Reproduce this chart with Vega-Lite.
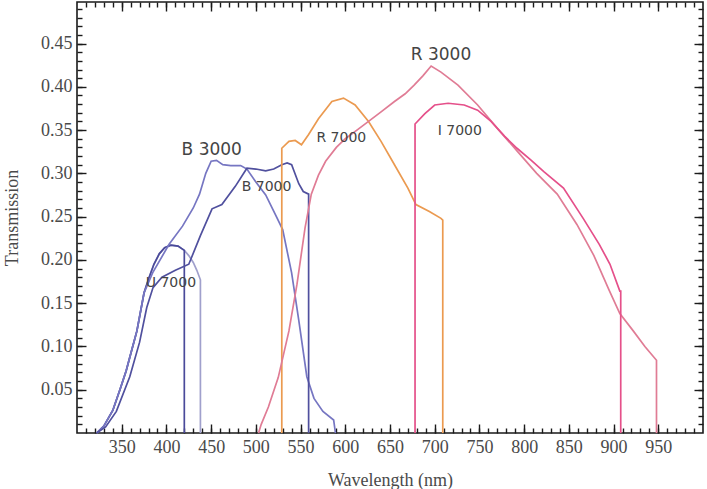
{
  "$schema": "https://vega.github.io/schema/vega-lite/v6.json",
  "width": 626,
  "height": 431,
  "autosize": {"type": "none"},
  "padding": {"left": 77, "top": 2, "right": 4, "bottom": 56},
  "background": "white",
  "config": {
    "view": {"stroke": "#1a1a1a", "strokeWidth": 1.6},
    "axis": {"grid": false, "domain": false, "tickColor": "#1a1a1a", "tickWidth": 1.4}
  },
  "datasets": {
    "curves": [
      {"s": "U 3000", "i": 0, "w": 322, "t": 0},
      {"s": "U 3000", "i": 1, "w": 330, "t": 0.008},
      {"s": "U 3000", "i": 2, "w": 340, "t": 0.026},
      {"s": "U 3000", "i": 3, "w": 348, "t": 0.05},
      {"s": "U 3000", "i": 4, "w": 355, "t": 0.072},
      {"s": "U 3000", "i": 5, "w": 361, "t": 0.095},
      {"s": "U 3000", "i": 6, "w": 367, "t": 0.118},
      {"s": "U 3000", "i": 7, "w": 375, "t": 0.162},
      {"s": "U 3000", "i": 8, "w": 380, "t": 0.178},
      {"s": "U 3000", "i": 9, "w": 386, "t": 0.195},
      {"s": "U 3000", "i": 10, "w": 392, "t": 0.207},
      {"s": "U 3000", "i": 11, "w": 398, "t": 0.214},
      {"s": "U 3000", "i": 12, "w": 405, "t": 0.217},
      {"s": "U 3000", "i": 13, "w": 413, "t": 0.216},
      {"s": "U 3000", "i": 14, "w": 420, "t": 0.211},
      {"s": "U 3000", "i": 15, "w": 425, "t": 0.205},
      {"s": "U 3000", "i": 16, "w": 430, "t": 0.197},
      {"s": "U 3000", "i": 17, "w": 434, "t": 0.188},
      {"s": "U 3000", "i": 18, "w": 438, "t": 0.177},
      {"s": "U 3000", "i": 19, "w": 438, "t": 0},

      {"s": "U 7000", "i": 0, "w": 322, "t": 0},
      {"s": "U 7000", "i": 1, "w": 330, "t": 0.008},
      {"s": "U 7000", "i": 2, "w": 340, "t": 0.026},
      {"s": "U 7000", "i": 3, "w": 348, "t": 0.05},
      {"s": "U 7000", "i": 4, "w": 355, "t": 0.072},
      {"s": "U 7000", "i": 5, "w": 361, "t": 0.095},
      {"s": "U 7000", "i": 6, "w": 367, "t": 0.118},
      {"s": "U 7000", "i": 7, "w": 375, "t": 0.162},
      {"s": "U 7000", "i": 8, "w": 380, "t": 0.178},
      {"s": "U 7000", "i": 9, "w": 386, "t": 0.195},
      {"s": "U 7000", "i": 10, "w": 392, "t": 0.207},
      {"s": "U 7000", "i": 11, "w": 398, "t": 0.214},
      {"s": "U 7000", "i": 12, "w": 405, "t": 0.217},
      {"s": "U 7000", "i": 13, "w": 413, "t": 0.216},
      {"s": "U 7000", "i": 14, "w": 420, "t": 0.211},
      {"s": "U 7000", "i": 15, "w": 420, "t": 0},

      {"s": "B 3000", "i": 0, "w": 322, "t": 0},
      {"s": "B 3000", "i": 1, "w": 330, "t": 0.008},
      {"s": "B 3000", "i": 2, "w": 340, "t": 0.026},
      {"s": "B 3000", "i": 3, "w": 348, "t": 0.05},
      {"s": "B 3000", "i": 4, "w": 355, "t": 0.072},
      {"s": "B 3000", "i": 5, "w": 361, "t": 0.095},
      {"s": "B 3000", "i": 6, "w": 367, "t": 0.118},
      {"s": "B 3000", "i": 7, "w": 375, "t": 0.162},
      {"s": "B 3000", "i": 8, "w": 385, "t": 0.186},
      {"s": "B 3000", "i": 9, "w": 403, "t": 0.218},
      {"s": "B 3000", "i": 10, "w": 418, "t": 0.239},
      {"s": "B 3000", "i": 11, "w": 430, "t": 0.26},
      {"s": "B 3000", "i": 12, "w": 437, "t": 0.276},
      {"s": "B 3000", "i": 13, "w": 444, "t": 0.3},
      {"s": "B 3000", "i": 14, "w": 450, "t": 0.314},
      {"s": "B 3000", "i": 15, "w": 456, "t": 0.315},
      {"s": "B 3000", "i": 16, "w": 463, "t": 0.31},
      {"s": "B 3000", "i": 17, "w": 472, "t": 0.309},
      {"s": "B 3000", "i": 18, "w": 483, "t": 0.309},
      {"s": "B 3000", "i": 19, "w": 490, "t": 0.305},
      {"s": "B 3000", "i": 20, "w": 500, "t": 0.29},
      {"s": "B 3000", "i": 21, "w": 511, "t": 0.275},
      {"s": "B 3000", "i": 22, "w": 522, "t": 0.252},
      {"s": "B 3000", "i": 23, "w": 530, "t": 0.235},
      {"s": "B 3000", "i": 24, "w": 540, "t": 0.185},
      {"s": "B 3000", "i": 25, "w": 548, "t": 0.13},
      {"s": "B 3000", "i": 26, "w": 557, "t": 0.065},
      {"s": "B 3000", "i": 27, "w": 565, "t": 0.04},
      {"s": "B 3000", "i": 28, "w": 575, "t": 0.025},
      {"s": "B 3000", "i": 29, "w": 587, "t": 0.015},
      {"s": "B 3000", "i": 30, "w": 589, "t": 0},

      {"s": "B 7000", "i": 0, "w": 322, "t": 0},
      {"s": "B 7000", "i": 1, "w": 332, "t": 0.007},
      {"s": "B 7000", "i": 2, "w": 344, "t": 0.025},
      {"s": "B 7000", "i": 3, "w": 359, "t": 0.065},
      {"s": "B 7000", "i": 4, "w": 370, "t": 0.105},
      {"s": "B 7000", "i": 5, "w": 378, "t": 0.145},
      {"s": "B 7000", "i": 6, "w": 385, "t": 0.168},
      {"s": "B 7000", "i": 7, "w": 395, "t": 0.18},
      {"s": "B 7000", "i": 8, "w": 410, "t": 0.188},
      {"s": "B 7000", "i": 9, "w": 425, "t": 0.195},
      {"s": "B 7000", "i": 10, "w": 438, "t": 0.228},
      {"s": "B 7000", "i": 11, "w": 451, "t": 0.259},
      {"s": "B 7000", "i": 12, "w": 462, "t": 0.264},
      {"s": "B 7000", "i": 13, "w": 477, "t": 0.285},
      {"s": "B 7000", "i": 14, "w": 490, "t": 0.306},
      {"s": "B 7000", "i": 15, "w": 500, "t": 0.305},
      {"s": "B 7000", "i": 16, "w": 511, "t": 0.303},
      {"s": "B 7000", "i": 17, "w": 520, "t": 0.305},
      {"s": "B 7000", "i": 18, "w": 529, "t": 0.31},
      {"s": "B 7000", "i": 19, "w": 535, "t": 0.312},
      {"s": "B 7000", "i": 20, "w": 540, "t": 0.31},
      {"s": "B 7000", "i": 21, "w": 548, "t": 0.288},
      {"s": "B 7000", "i": 22, "w": 553, "t": 0.279},
      {"s": "B 7000", "i": 23, "w": 559, "t": 0.276},
      {"s": "B 7000", "i": 24, "w": 559, "t": 0},

      {"s": "R 7000", "i": 0, "w": 529, "t": 0},
      {"s": "R 7000", "i": 1, "w": 529, "t": 0.329},
      {"s": "R 7000", "i": 2, "w": 537, "t": 0.337},
      {"s": "R 7000", "i": 3, "w": 544, "t": 0.338},
      {"s": "R 7000", "i": 4, "w": 551, "t": 0.333},
      {"s": "R 7000", "i": 5, "w": 559, "t": 0.345},
      {"s": "R 7000", "i": 6, "w": 570, "t": 0.363},
      {"s": "R 7000", "i": 7, "w": 585, "t": 0.383},
      {"s": "R 7000", "i": 8, "w": 598, "t": 0.387},
      {"s": "R 7000", "i": 9, "w": 611, "t": 0.379},
      {"s": "R 7000", "i": 10, "w": 626, "t": 0.36},
      {"s": "R 7000", "i": 11, "w": 640, "t": 0.337},
      {"s": "R 7000", "i": 12, "w": 655, "t": 0.31},
      {"s": "R 7000", "i": 13, "w": 670, "t": 0.283},
      {"s": "R 7000", "i": 14, "w": 679, "t": 0.264},
      {"s": "R 7000", "i": 15, "w": 694, "t": 0.256},
      {"s": "R 7000", "i": 16, "w": 707, "t": 0.248},
      {"s": "R 7000", "i": 17, "w": 709, "t": 0.246},
      {"s": "R 7000", "i": 18, "w": 709, "t": 0},

      {"s": "R 3000", "i": 0, "w": 503, "t": 0},
      {"s": "R 3000", "i": 1, "w": 506, "t": 0.01},
      {"s": "R 3000", "i": 2, "w": 514, "t": 0.03},
      {"s": "R 3000", "i": 3, "w": 525, "t": 0.064},
      {"s": "R 3000", "i": 4, "w": 537, "t": 0.118},
      {"s": "R 3000", "i": 5, "w": 546, "t": 0.172},
      {"s": "R 3000", "i": 6, "w": 555, "t": 0.237},
      {"s": "R 3000", "i": 7, "w": 562, "t": 0.276},
      {"s": "R 3000", "i": 8, "w": 570, "t": 0.298},
      {"s": "R 3000", "i": 9, "w": 578, "t": 0.314},
      {"s": "R 3000", "i": 10, "w": 590, "t": 0.33},
      {"s": "R 3000", "i": 11, "w": 600, "t": 0.34},
      {"s": "R 3000", "i": 12, "w": 613, "t": 0.35},
      {"s": "R 3000", "i": 13, "w": 626, "t": 0.36},
      {"s": "R 3000", "i": 14, "w": 640, "t": 0.371},
      {"s": "R 3000", "i": 15, "w": 655, "t": 0.383},
      {"s": "R 3000", "i": 16, "w": 667, "t": 0.392},
      {"s": "R 3000", "i": 17, "w": 677, "t": 0.402},
      {"s": "R 3000", "i": 18, "w": 687, "t": 0.413},
      {"s": "R 3000", "i": 19, "w": 696, "t": 0.424},
      {"s": "R 3000", "i": 20, "w": 707, "t": 0.417},
      {"s": "R 3000", "i": 21, "w": 726, "t": 0.402},
      {"s": "R 3000", "i": 22, "w": 748, "t": 0.379},
      {"s": "R 3000", "i": 23, "w": 770, "t": 0.352},
      {"s": "R 3000", "i": 24, "w": 792, "t": 0.326},
      {"s": "R 3000", "i": 25, "w": 814, "t": 0.3},
      {"s": "R 3000", "i": 26, "w": 837, "t": 0.276},
      {"s": "R 3000", "i": 27, "w": 859, "t": 0.241},
      {"s": "R 3000", "i": 28, "w": 878, "t": 0.205},
      {"s": "R 3000", "i": 29, "w": 895, "t": 0.165},
      {"s": "R 3000", "i": 30, "w": 907, "t": 0.138},
      {"s": "R 3000", "i": 31, "w": 922, "t": 0.118},
      {"s": "R 3000", "i": 32, "w": 935, "t": 0.1},
      {"s": "R 3000", "i": 33, "w": 948, "t": 0.084},
      {"s": "R 3000", "i": 34, "w": 948, "t": 0},

      {"s": "I 7000", "i": 0, "w": 678, "t": 0},
      {"s": "I 7000", "i": 1, "w": 678, "t": 0.357},
      {"s": "I 7000", "i": 2, "w": 689, "t": 0.369},
      {"s": "I 7000", "i": 3, "w": 700, "t": 0.379},
      {"s": "I 7000", "i": 4, "w": 715, "t": 0.381},
      {"s": "I 7000", "i": 5, "w": 733, "t": 0.379},
      {"s": "I 7000", "i": 6, "w": 748, "t": 0.373},
      {"s": "I 7000", "i": 7, "w": 763, "t": 0.36},
      {"s": "I 7000", "i": 8, "w": 778, "t": 0.343},
      {"s": "I 7000", "i": 9, "w": 792, "t": 0.329},
      {"s": "I 7000", "i": 10, "w": 808, "t": 0.315},
      {"s": "I 7000", "i": 11, "w": 822, "t": 0.302},
      {"s": "I 7000", "i": 12, "w": 844, "t": 0.283},
      {"s": "I 7000", "i": 13, "w": 866, "t": 0.248},
      {"s": "I 7000", "i": 14, "w": 884, "t": 0.218},
      {"s": "I 7000", "i": 15, "w": 896, "t": 0.195},
      {"s": "I 7000", "i": 16, "w": 907, "t": 0.164},
      {"s": "I 7000", "i": 17, "w": 908, "t": 0.164},
      {"s": "I 7000", "i": 18, "w": 908, "t": 0}
    ],
    "labels": [
      {"label": "B 3000", "set": "3000", "lx": 450.7, "ly": 0.327},
      {"label": "R 3000", "set": "3000", "lx": 707, "ly": 0.4365},
      {"label": "R 7000", "set": "7000", "lx": 595.6, "ly": 0.3406},
      {"label": "I 7000", "set": "7000", "lx": 728, "ly": 0.3487},
      {"label": "B 7000", "set": "7000", "lx": 512, "ly": 0.284},
      {"label": "U 7000", "set": "7000", "lx": 405, "ly": 0.173}
    ]
  },
  "resolve": {"axis": {"x": "independent", "y": "independent"}},
  "layer": [
    {
      "data": {"name": "curves"},
      "mark": {"type": "line", "strokeWidth": 1.7},
      "encoding": {
        "x": {
          "field": "w", "type": "quantitative",
          "scale": {"domain": [300, 1000], "nice": false, "zero": false},
          "axis": {
            "orient": "bottom", "title": "Wavelength (nm)",
            "values": [350, 400, 450, 500, 550, 600, 650, 700, 750, 800, 850, 900, 950],
            "format": "d", "offset": -9, "tickSize": 9, "labelPadding": 5,
            "labelFont": "Liberation Serif", "labelFontSize": 18, "labelColor": "#4a4a4a",
            "labelFlush": false, "labelOverlap": false,
            "titleFont": "Liberation Serif", "titleFontSize": 18, "titleFontWeight": "normal",
            "titleColor": "#4a4a4a", "titlePadding": 15
          }
        },
        "y": {
          "field": "t", "type": "quantitative",
          "scale": {"domain": [0, 0.498], "nice": false},
          "axis": {
            "orient": "left", "title": "Transmission",
            "values": [0.05, 0.1, 0.15, 0.2, 0.25, 0.3, 0.35, 0.4, 0.45],
            "format": ".2f", "offset": -9, "tickSize": 9, "labelPadding": 5,
            "labelFont": "Liberation Serif", "labelFontSize": 18, "labelColor": "#4a4a4a",
            "labelFlush": false, "labelOverlap": false,
            "titleFont": "Liberation Serif", "titleFontSize": 18, "titleFontWeight": "normal",
            "titleColor": "#4a4a4a", "titlePadding": 19
          }
        },
        "color": {
          "field": "s", "type": "nominal", "legend": null,
          "scale": {
            "domain": ["U 3000", "U 7000", "B 3000", "B 7000", "R 7000", "R 3000", "I 7000"],
            "range": ["#a0a0cc", "#4a4a9a", "#7676c2", "#50509e", "#eb9a50", "#e07c95", "#e5508a"]
          }
        },
        "order": {"field": "i", "type": "quantitative"}
      }
    },
    {
      "data": {"name": "labels"},
      "mark": {"type": "text", "font": "DejaVu Sans", "color": "#444444", "align": "center", "baseline": "middle"},
      "encoding": {
        "x": {
          "field": "lx", "type": "quantitative",
          "scale": {"domain": [300, 1000], "nice": false, "zero": false},
          "axis": {
            "orient": "bottom", "title": null, "labels": false, "offset": -5, "tickSize": 5,
            "values": [310,320,330,340,350,360,370,380,390,400,410,420,430,440,450,460,470,480,490,500,510,520,530,540,550,560,570,580,590,600,610,620,630,640,650,660,670,680,690,700,710,720,730,740,750,760,770,780,790,800,810,820,830,840,850,860,870,880,890,900,910,920,930,940,950,960,970,980,990]
          }
        },
        "y": {
          "field": "ly", "type": "quantitative",
          "scale": {"domain": [0, 0.498], "nice": false},
          "axis": {
            "orient": "left", "title": null, "labels": false, "offset": -5, "tickSize": 5,
            "values": [0.01,0.02,0.03,0.04,0.05,0.06,0.07,0.08,0.09,0.1,0.11,0.12,0.13,0.14,0.15,0.16,0.17,0.18,0.19,0.2,0.21,0.22,0.23,0.24,0.25,0.26,0.27,0.28,0.29,0.3,0.31,0.32,0.33,0.34,0.35,0.36,0.37,0.38,0.39,0.4,0.41,0.42,0.43,0.44,0.45,0.46,0.47,0.48,0.49]
          }
        },
        "text": {"field": "label", "type": "nominal"},
        "size": {"field": "set", "type": "ordinal", "legend": null, "scale": {"domain": ["3000", "7000"], "range": [17, 14]}}
      }
    },
    {
      "data": {"name": "curves"},
      "mark": {"type": "line", "opacity": 0},
      "encoding": {
        "x": {
          "field": "w", "type": "quantitative",
          "scale": {"domain": [300, 1000], "nice": false, "zero": false},
          "axis": {
            "orient": "top", "title": null, "labels": false, "offset": -9, "tickSize": 9,
            "values": [350, 400, 450, 500, 550, 600, 650, 700, 750, 800, 850, 900, 950]
          }
        },
        "y": {
          "field": "t", "type": "quantitative",
          "scale": {"domain": [0, 0.498], "nice": false},
          "axis": {
            "orient": "right", "title": null, "labels": false, "offset": -9, "tickSize": 9,
            "values": [0.05, 0.1, 0.15, 0.2, 0.25, 0.3, 0.35, 0.4, 0.45]
          }
        },
        "detail": {"field": "s", "type": "nominal"}
      }
    },
    {
      "data": {"name": "curves"},
      "mark": {"type": "line", "opacity": 0},
      "encoding": {
        "x": {
          "field": "w", "type": "quantitative",
          "scale": {"domain": [300, 1000], "nice": false, "zero": false},
          "axis": {
            "orient": "top", "title": null, "labels": false, "offset": -5, "tickSize": 5,
            "values": [310,320,330,340,350,360,370,380,390,400,410,420,430,440,450,460,470,480,490,500,510,520,530,540,550,560,570,580,590,600,610,620,630,640,650,660,670,680,690,700,710,720,730,740,750,760,770,780,790,800,810,820,830,840,850,860,870,880,890,900,910,920,930,940,950,960,970,980,990]
          }
        },
        "y": {
          "field": "t", "type": "quantitative",
          "scale": {"domain": [0, 0.498], "nice": false},
          "axis": {
            "orient": "right", "title": null, "labels": false, "offset": -5, "tickSize": 5,
            "values": [0.01,0.02,0.03,0.04,0.05,0.06,0.07,0.08,0.09,0.1,0.11,0.12,0.13,0.14,0.15,0.16,0.17,0.18,0.19,0.2,0.21,0.22,0.23,0.24,0.25,0.26,0.27,0.28,0.29,0.3,0.31,0.32,0.33,0.34,0.35,0.36,0.37,0.38,0.39,0.4,0.41,0.42,0.43,0.44,0.45,0.46,0.47,0.48,0.49]
          }
        },
        "detail": {"field": "s", "type": "nominal"}
      }
    }
  ]
}
